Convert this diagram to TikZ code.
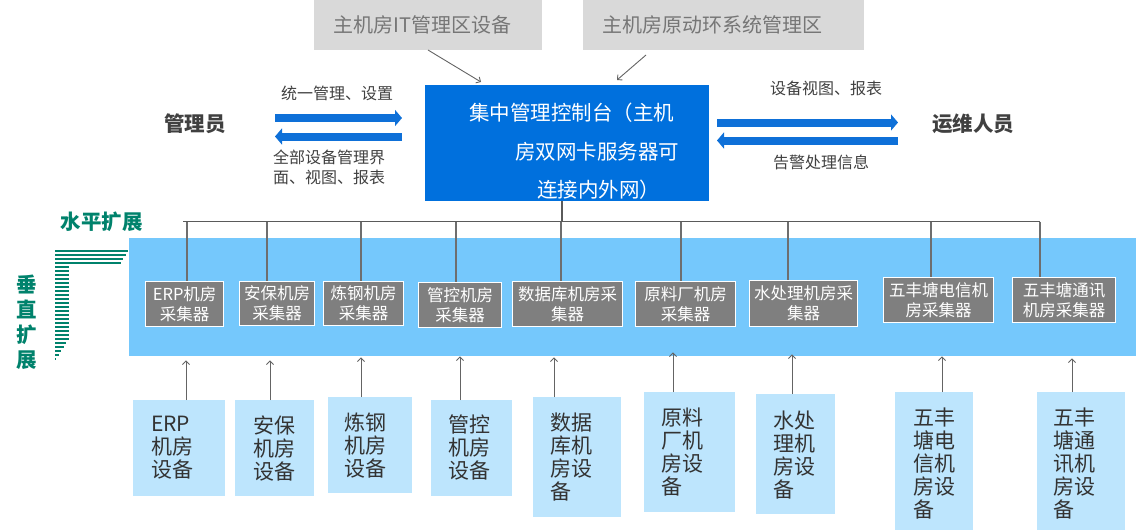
\documentclass[tikz,border=0pt]{standalone}
\usepackage{fontspec}
\setmainfont{Noto Sans CJK SC}
\usetikzlibrary{arrows.meta,calc}
\definecolor{grayfill}{RGB}{217,217,217}
\definecolor{graytxt}{RGB}{118,118,118}
\definecolor{mainblue}{RGB}{0,112,221}
\definecolor{arrblue}{RGB}{14,112,216}
\definecolor{bandblue}{RGB}{117,200,252}
\definecolor{collgray}{RGB}{127,127,127}
\definecolor{lowblue}{RGB}{189,229,253}
\definecolor{tealc}{RGB}{0,130,108}
\definecolor{darktxt}{RGB}{64,64,64}
\definecolor{lowtxt}{RGB}{51,51,51}
\definecolor{busgray}{RGB}{90,90,90}
\definecolor{dropgray}{RGB}{110,110,110}
\definecolor{thinarr}{RGB}{100,100,100}
\begin{document}
\begin{tikzpicture}[x=1pt,y=-1pt,
  box/.style={inner sep=0pt, anchor=north west, draw=none},
  graybox/.style={box, fill=grayfill},
  graytext/.style={inner sep=0pt, anchor=west, text=graytxt, font=\fontsize{20}{24}\selectfont},
  mainbox/.style={box, fill=mainblue},
  maintext/.style={inner sep=0pt, anchor=west, text=white, font=\fontsize{20.5}{24}\selectfont},
  bandbox/.style={box, fill=bandblue},
  collbox/.style={box, fill=collgray, draw=white, line width=1.3pt, text=white, align=center, font=\fontsize{16.5}{20}\selectfont},
  lowbox/.style={box, fill=lowblue},
  lowtext/.style={inner sep=0pt, anchor=north west, align=left, text=lowtxt, font=\fontsize{21}{23}\selectfont},
  person/.style={inner sep=0pt, text=darktxt, font=\fontsize{20.5}{24}\selectfont\bfseries},
  lbl/.style={inner sep=0pt, text=darktxt, align=left, font=\fontsize{16}{19.5}\selectfont},
  fatarrow/.style={draw=arrblue, line width=8pt, -{Triangle[length=7pt,width=16pt]}},
  thinarrow/.style={draw=thinarr, line width=0.9pt, -{Straight Barb[length=3.5pt,width=7pt]}},
  busline/.style={draw=busgray, line width=1.3pt},
  dropline/.style={draw=dropgray, line width=1.3pt},
  stripe/.style={draw=tealc, line width=2pt},
  tealtext/.style={inner sep=0pt, text=tealc, font=\fontsize{20.5}{25}\selectfont\bfseries}
]
\useasboundingbox (0,0) rectangle (1144,530);

% top gray boxes
\node[graybox, minimum width=228pt, minimum height=50pt] (g1) at (314,0) {};
\node[graytext] (g1t) at ($(g1.west)+(19,0)$) {主机房IT管理区设备};
\node[graybox, minimum width=281pt, minimum height=50pt] (g2) at (583,0) {};
\node[graytext] (g2t) at ($(g2.west)+(19,0)$) {主机房原动环系统管理区};

% main box
\node[mainbox, minimum width=284pt, minimum height=116pt] (main) at (425,85) {};
\node[maintext] (m1) at (469,113) {集中管理控制台（主机};
\node[maintext] (m2) at (515,152) {房双网卡服务器可};
\node[maintext] (m3) at (537,190) {连接内外网）};

% arrows from gray boxes
\coordinate (g1a) at (428,50);
\coordinate (g1b) at (481,82);
\draw[thinarrow] (g1a) -- (g1b);
\coordinate (g2a) at (646,55);
\coordinate (g2b) at (617,80);
\draw[thinarrow] (g2a) -- (g2b);

% people
\node[person] (admin) at (195,124) {管理员};
\node[person] (ops) at (973,124) {运维人员};

% fat arrows
\coordinate (la1) at (275,118);
\coordinate (la2) at (402,118);
\draw[fatarrow] (la1) -- (la2);
\coordinate (lb1) at (402,136.5);
\coordinate (lb2) at (275,136.5);
\draw[fatarrow] (lb1) -- (lb2);
\coordinate (ra1) at (717,122.5);
\coordinate (ra2) at (898,122.5);
\draw[fatarrow] (ra1) -- (ra2);
\coordinate (rb1) at (898,140.5);
\coordinate (rb2) at (717,140.5);
\draw[fatarrow] (rb1) -- (rb2);

% arrow labels
\node[lbl] (l1) at (337,93) {统一管理、设置};
\node[lbl, anchor=north west] (l2) at (273,150) {全部设备管理界\\面、视图、报表};
\node[lbl] (l3) at (826,88) {设备视图、报表};
\node[lbl] (l4) at (821,162) {告警处理信息};

% band
\node[bandbox, minimum width=1007pt, minimum height=118pt] (band) at (129,238) {};

% collectors
\node[collbox, minimum width=78pt, minimum height=45pt] (c1) at (145,281) {ERP机房\\采集器};
\node[collbox, minimum width=75pt, minimum height=44pt] (c2) at (239,281) {安保机房\\采集器};
\node[collbox, minimum width=80pt, minimum height=44pt] (c3) at (323,281) {炼钢机房\\采集器};
\node[collbox, minimum width=83pt, minimum height=45pt] (c4) at (418,282) {管控机房\\采集器};
\node[collbox, minimum width=110pt, minimum height=45pt] (c5) at (512,281) {数据库机房采\\集器};
\node[collbox, minimum width=100pt, minimum height=45pt] (c6) at (635,281) {原料厂机房\\采集器};
\node[collbox, minimum width=108pt, minimum height=46pt] (c7) at (749,280) {水处理机房采\\集器};
\node[collbox, minimum width=110pt, minimum height=45pt] (c8) at (883,277) {五丰塘电信机\\房采集器};
\node[collbox, minimum width=103pt, minimum height=45pt] (c9) at (1012,277) {五丰塘通讯\\机房采集器};

% bus
\coordinate (mv) at (562,201);
\coordinate (busL) at (183,221.5);
\coordinate (busR) at (1040,221.5);
\draw[busline] (mv) -- (mv |- busL);
\draw[busline] (busL) -- (busR);
\foreach \xx/\cc in {187/c1,267/c2,361/c3,456/c4,561/c5,681/c6,788/c7,931/c8,1040/c9}{
  \coordinate (d\cc) at (\xx,221.5);
  \draw[dropline] (d\cc) -- (d\cc |- \cc.north);
}

% lower boxes
\node[lowbox, minimum width=92pt, minimum height=96pt] (e1) at (133,400) {};
\node[lowbox, minimum width=79pt, minimum height=96pt] (e2) at (235,400) {};
\node[lowbox, minimum width=84pt, minimum height=96pt] (e3) at (328,397) {};
\node[lowbox, minimum width=81pt, minimum height=96pt] (e4) at (431,400) {};
\node[lowbox, minimum width=88pt, minimum height=120pt] (e5) at (533,397) {};
\node[lowbox, minimum width=91pt, minimum height=120pt] (e6) at (644,392) {};
\node[lowbox, minimum width=79pt, minimum height=120pt] (e7) at (756,394) {};
\node[lowbox, minimum width=78pt, minimum height=138pt] (e8) at (895,392) {};
\node[lowbox, minimum width=88pt, minimum height=138pt] (e9) at (1037,392) {};

\node[lowtext] (t1) at (151,416) {ERP\\机房\\设备};
\node[lowtext] (t2) at (253,416) {安保\\机房\\设备};
\node[lowtext] (t3) at (344,413) {炼钢\\机房\\设备};
\node[lowtext] (t4) at (448,415) {管控\\机房\\设备};
\node[lowtext] (t5) at (550,413) {数据\\库机\\房设\\备};
\node[lowtext] (t6) at (661,408) {原料\\厂机\\房设\\备};
\node[lowtext] (t7) at (773,411) {水处\\理机\\房设\\备};
\node[lowtext] (t8) at (913,408) {五丰\\塘电\\信机\\房设\\备};
\node[lowtext] (t9) at (1053,408) {五丰\\塘通\\讯机\\房设\\备};

% up arrows
\foreach \xx/\ee/\off in {186/e1/4,270/e2/4,361/e3/1,460/e4/0,554/e5/1,673/e6/-4,792/e7/-2,942/e8/0,1072/e9/2}{
  \coordinate (u\ee) at (\xx,0);
  \draw[thinarrow] (u\ee |- \ee.north) -- ($(u\ee |- band.south)+(0,\off)$);
}

% expansion marks
\node[tealtext] (hz) at (101.5,222) {水平扩展};
\node[tealtext, align=center] (vt) at (27,322) {垂\\直\\扩\\展};
\foreach \i in {0,...,3}{
  \draw[stripe] (55,250.7+4*\i) -- (128-2.4*\i,250.7+4*\i);
}
\foreach \i in {4,...,22}{
  \draw[stripe] (55,250.7+4*\i) -- (68.5,250.7+4*\i);
}
\foreach \i/\xe in {23/66,24/63.5,25/61,26/58.5,27/56}{
  \draw[stripe] (55,250.7+4*\i) -- (\xe,250.7+4*\i);
}
\end{tikzpicture}
\end{document}
